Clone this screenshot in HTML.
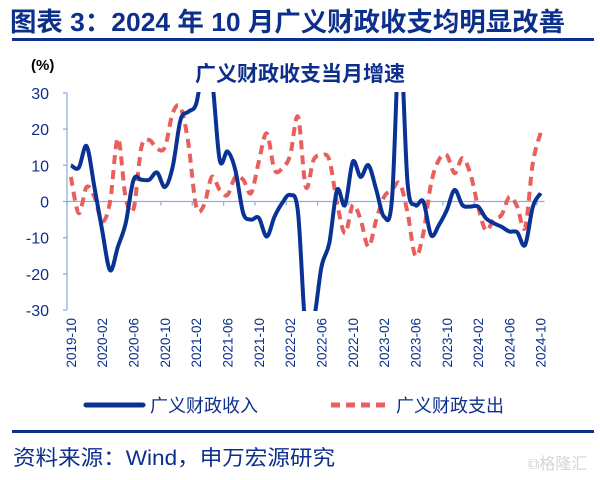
<!DOCTYPE html>
<html><head><meta charset="utf-8">
<style>
html,body{margin:0;padding:0;background:#fff;}
body{width:600px;height:480px;overflow:hidden;position:relative;font-family:"Liberation Sans","Noto Sans CJK SC",sans-serif;}
svg{position:absolute;left:0;top:0;}
</style></head>
<body>
<svg id="chart" width="600" height="480" viewBox="0 0 600 480" xmlns="http://www.w3.org/2000/svg">
  <text x="10" y="31" font-size="26" font-weight="bold" fill="#0d2f8c" font-family="Liberation Sans, Noto Sans CJK SC, sans-serif" textLength="555" lengthAdjust="spacingAndGlyphs">图表 3：2024 年 10 月广义财政收支均明显改善</text>
  <rect x="12" y="38" width="582" height="3" fill="#0d2f8c"/>
  <text x="31" y="70" font-size="15" font-weight="bold" fill="#000">(%)</text>
  <text x="300" y="81" text-anchor="middle" font-size="21" font-weight="bold" fill="#0d2f8c" font-family="Liberation Sans, Noto Sans CJK SC, sans-serif">广义财政收支当月增速</text>
  <g id="axes"></g>
  <defs><clipPath id="plotclip"><rect x="67" y="92" width="480" height="219"/></clipPath></defs>
  <g id="series" clip-path="url(#plotclip)"></g>
  <g id="legend">
    <line x1="86" y1="405" x2="143" y2="405" stroke="#0a3294" stroke-width="5" stroke-linecap="round"/>
    <text x="150" y="412" font-size="18" fill="#0d2f8c">广义财政收入</text>
    <line x1="331" y1="405" x2="390" y2="405" stroke="#e8605c" stroke-width="5" stroke-dasharray="9,6"/>
    <text x="396" y="412" font-size="18" fill="#0d2f8c">广义财政支出</text>
  </g>
  <rect x="12" y="430" width="582" height="3" fill="#0d2f8c"/>
  <text x="13" y="465" font-size="21" fill="#0d2f8c" textLength="322" lengthAdjust="spacingAndGlyphs">资料来源：Wind，申万宏源研究</text>
  <text x="528" y="469" font-size="16" fill="#d5d5d5">⧉格隆汇</text>
</svg>
<script>
const months = [];
for (let y = 2019, m = 10, k = 0; k < 61; k++) { months.push(y + '-' + String(m).padStart(2, '0')); m++; if (m > 12) { m = 1; y++; } }
const yTicks = [30, 20, 10, 0, -10, -20, -30];
const revenue = [10, 9.3, 15.3, 4, -8, -19, -12.5, -6, 6, 6, 6, 8, 4, 9.6, 22.5, 24.8, 27, 38, 34, 11.5, 13.8, 8.7, -3.2, -5, -4.5, -9.7, -4.2, -0.4, 1.8, -3, -36, -33, -18, -11.5, 3.2, -1, 11, 6.8, 10, 3.2, -4.2, 0.4, 45, 5, -1, 0, -9.3, -6.5, -2.4, 3.2, -1, -1.4, -1.4, -4.6, -6, -7, -8.3, -8.5, -12, -1.4, 2.3];
const expenditure = [6.8, -3.2, 4, 1.3, -5.5, 0, 17.5, 1, -2, 15, 17, 14.6, 15, 24.4, 26, 16, -1.4, -1, 6.8, 3.2, 1.8, 6.8, 6, 2.3, 11, 18.8, 8.8, 9.2, 12.8, 23.4, 4, 11.5, 12.8, 11.5, -0.5, -8.8, -1, -5, -12.5, -5, 1.3, 3.2, 5, -3.2, -15, -8.8, 5, 11.5, 12.8, 7.8, 12, 7.8, -1.4, -8, -5, -3.7, 1.3, -1.4, -7.2, 10.8, 19];

const NS = 'http://www.w3.org/2000/svg';
const X0 = 67, BW = 7.83, Y0 = 201.5, PER = 3.62;
const xAt = i => X0 + BW * (i + 0.5);
const yAt = v => Y0 - v * PER;
function mk(tag, attrs, parent) { const e = document.createElementNS(NS, tag); for (const k in attrs) e.setAttribute(k, attrs[k]); parent.appendChild(e); return e; }
const axes = document.getElementById('axes');
const axisCol = '#8fb0dd', labCol = '#0d2f8c';

const yAxis = mk('line', {x1: X0, y1: yAt(30), x2: X0, y2: yAt(-30), stroke: axisCol, 'stroke-width': 1.3}, axes);


yTicks.forEach(t => {
  const tk = mk('line', {x1: X0 - 4, y1: yAt(t), x2: X0, y2: yAt(t), stroke: axisCol, 'stroke-width': 1.3}, axes);
  
  
  const lb = mk('text', {x: 49, y: yAt(t) + 6, 'text-anchor': 'end', 'font-size': 16, fill: labCol}, axes);
  lb.textContent = t;
  
  
});
const xAxis = mk('line', {x1: X0, y1: yAt(0), x2: X0 + BW * months.length, y2: yAt(0), stroke: axisCol, 'stroke-width': 1.3}, axes);


for (let i = 0; i < months.length; i += 4) {
  const tx = X0 + BW * i;
  const tk = mk('line', {x1: tx, y1: yAt(0), x2: tx, y2: yAt(0) + 4, stroke: axisCol, 'stroke-width': 1.3}, axes);
  
  
  const lx = xAt(i) + 5, ly = 318;
  const lb = mk('text', {x: lx, y: ly, 'text-anchor': 'end', 'font-size': 13.5, fill: labCol, transform: 'rotate(-90 ' + lx + ' ' + ly + ')'}, axes);
  lb.textContent = months[i];
  
  
}

function smoothPath(vals) {
  const p = vals.map((v, i) => [xAt(i), yAt(v)]);
  let d = 'M' + p[0][0].toFixed(1) + ',' + p[0][1].toFixed(1);
  for (let i = 0; i < p.length - 1; i++) {
    const p0 = p[Math.max(0, i - 1)], p1 = p[i], p2 = p[i + 1], p3 = p[Math.min(p.length - 1, i + 2)];
    const t = 1 / 6;
    const c1 = [p1[0] + (p2[0] - p0[0]) * t, p1[1] + (p2[1] - p0[1]) * t];
    const c2 = [p2[0] - (p3[0] - p1[0]) * t, p2[1] - (p3[1] - p1[1]) * t];
    d += ' C' + c1.map(n => n.toFixed(1)).join(',') + ' ' + c2.map(n => n.toFixed(1)).join(',') + ' ' + p2.map(n => n.toFixed(1)).join(',');
  }
  return d;
}
const series = document.getElementById('series');
const exp = mk('path', {d: smoothPath(expenditure), fill: 'none', stroke: '#e8605c', 'stroke-width': 4, 'stroke-dasharray': '9,6'}, series);


const rev = mk('path', {d: smoothPath(revenue), fill: 'none', stroke: '#0a3294', 'stroke-width': 4, 'stroke-linejoin': 'round'}, series);


</script>
</body></html>
